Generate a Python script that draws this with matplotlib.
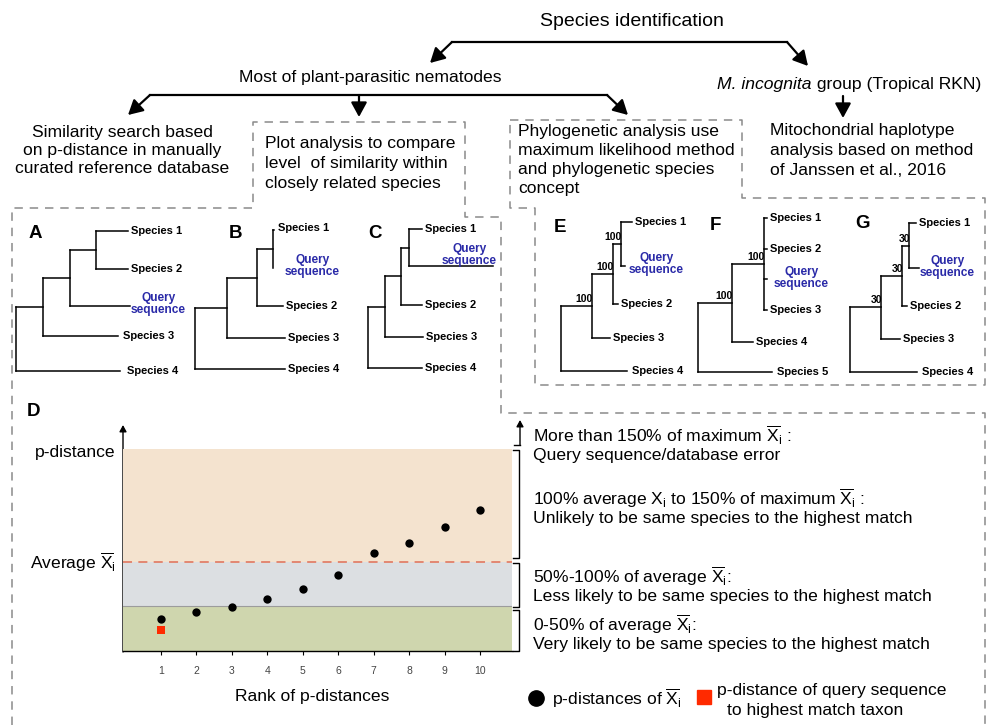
import matplotlib.pyplot as plt

plt.rcParams['font.family'] = ['Liberation Sans', 'DejaVu Sans']
plt.rcParams['mathtext.fontset'] = 'custom'
plt.rcParams['mathtext.rm'] = 'Liberation Sans'
plt.rcParams['mathtext.it'] = 'Liberation Sans:italic'

XBAR = r'$\overline{\mathrm{X}}_{\mathrm{i}}$'

# panel D data (p-distance in units of the average)
ranks = [1, 2, 3, 4, 5, 6, 7, 8, 9, 10]
p_distances = [0.36, 0.44, 0.49, 0.58, 0.70, 0.85, 1.10, 1.21, 1.39, 1.58]
query_rank = [1]
query_distance = [0.24]
band_edges = [0.0, 0.5, 1.0, 2.27]
band_colors = ['#cfd6ae', '#dcdfe2', '#f4e3cf']

# trees: (node x, bootstrap, children) ; leaf = (name, y, x_end[, dx, dy])
tree_A = (16, None, [(43, None, [(70, None, [(96, None, [("Species 1", 231, 128), ("Species 2", 269, 128)]),
                                              ("Query sequence", 306, 130, 1, -2)]),
                                 ("Species 3", 336, 118, 5)]),
                     ("Species 4", 371, 120, 7)])
tree_B = (195, None, [(227, None, [(257, None, [(273, None, [("Species 1", 230, 274, 4, -2),
                                                              ("Query sequence", 268, 273, 12, -2)]),
                                                ("Species 2", 306, 283)]),
                                   ("Species 3", 338, 285)]),
                      ("Species 4", 369, 285)])
tree_C = (368, None, [(385, None, [(401, None, [(409, None, [("Species 1", 229, 422),
                                                              ("Query sequence", 266, 493, -51, -11)]),
                                                ("Species 2", 305, 422)]),
                                   ("Species 3", 337, 423)]),
                      ("Species 4", 368, 422)])
tree_E = (561, None, [(592, '100', [(613, '100', [(621, '100', [("Species 1", 222, 632),
                                                                ("Query sequence", 266, 625, 4, -2)]),
                                                  ("Species 2", 304, 618)]),
                                    ("Species 3", 338, 610)]),
                      ("Species 4", 371, 627, 5)])
tree_F = (698, None, [(732, '100', [(764, '100', [("Species 1", 218, 767), ("Species 2", 249, 767),
                                                  ("Query sequence", 279, 767, 7, -1), ("Species 3", 310, 767)]),
                                    ("Species 4", 342, 753)]),
                      ("Species 5", 372, 772, 5)])
tree_G = (850, None, [(881, '30', [(902, '30', [(909, '30', [("Species 1", 223, 916),
                                                             ("Query sequence", 268, 919, 1, -1)]),
                                                ("Species 2", 306, 907)]),
                                   ("Species 3", 339, 900)]),
                      ("Species 4", 372, 917, 5)])
trees = [tree_A, tree_B, tree_C, tree_E, tree_F, tree_G]
panel_letters = ['A', 'B', 'C', 'E', 'F', 'G']
letter_pos = [(35, 233), (235, 233), (375, 233), (560, 227), (715, 225), (863, 223)]

fs = 12.6
blue = '#2a2aa8'
dash_col = '#8a8a8a'

fig = plt.figure(figsize=(9.87, 7.25), dpi=100)
ov = fig.add_axes([0, 0, 1, 1])
ov.set_xlim(0, 987)
ov.set_ylim(725, 0)
ov.axis('off')


def arrow(x0, y0, x1, y1, ms=16, lw=1.6):
    ov.annotate('', xy=(x1, y1), xytext=(x0, y0),
                arrowprops=dict(arrowstyle='-|>,head_length=0.55,head_width=0.3', lw=lw, color='k',
                                mutation_scale=ms, shrinkA=0, shrinkB=0))


def draw_node(node):
    x, boot, children = node
    ys = []
    for ch in children:
        if isinstance(ch[0], str):
            name, y, x_end = ch[:3]
            dx = ch[3] if len(ch) > 3 else 3
            dy = ch[4] if len(ch) > 4 else 0
            ov.plot([x, x_end], [y, y], color='k', lw=1.1)
            if name.startswith('Query'):
                ov.text(x_end + dx, y + dy, 'Query\nsequence', color=blue, fontsize=8.6, fontweight='bold',
                        ha='left', va='center', multialignment='center', linespacing=0.95)
            else:
                ov.text(x_end + dx, y + dy, name, fontsize=8, fontweight='bold', ha='left', va='center')
            ys.append(y)
        else:
            cy = draw_node(ch)
            ov.plot([x, ch[0]], [cy, cy], color='k', lw=1.1)
            if ch[1]:
                ov.text(ch[0] + 1, cy - 2, ch[1], fontsize=7.5, fontweight='bold', ha='right', va='bottom')
            ys.append(cy)
    ov.plot([x, x], [min(ys), max(ys)], color='k', lw=1.1)
    return (min(ys) + max(ys)) / 2


for t in trees:
    draw_node(t)
for lab, (lx, ly) in zip(panel_letters, letter_pos):
    ov.text(lx, ly, lab, fontsize=13.5, fontweight='bold', ha='center', va='center')

# flow chart header
ov.text(632, 21, 'Species identification', fontsize=14, ha='center', va='center')
ov.plot([452, 787], [42, 42], color='k', lw=1.6)
arrow(452, 42, 430, 63)
arrow(787, 42, 808, 66)
ov.text(370, 77, 'Most of plant-parasitic nematodes', fontsize=fs, ha='center', va='center')
t1 = ov.text(717, 84, 'M. incognita', fontsize=fs, style='italic', ha='left', va='center')
ov.annotate(' group (Tropical RKN)', xy=(1, 0.5), xycoords=t1, fontsize=fs, ha='left', va='center')
ov.plot([150, 607], [95, 95], color='k', lw=1.6)
arrow(150, 95, 128, 115)
arrow(359, 95, 359, 117)
arrow(607, 95, 628, 115)
arrow(843, 96, 843, 118)

for i, s in enumerate(['Similarity search based', 'on p-distance in manually', 'curated reference database']):
    ov.text(122, 132 + 18 * i, s, fontsize=fs, ha='center', va='center')
for i, s in enumerate(['Plot analysis to compare', 'level  of similarity within', 'closely related species']):
    ov.text(265, 143 + 20 * i, s, fontsize=fs, ha='left', va='center')
for i, s in enumerate(['Phylogenetic analysis use', 'maximum likelihood method', 'and phylogenetic species', 'concept']):
    ov.text(518, 131 + 19 * i, s, fontsize=fs, ha='left', va='center')
for i, s in enumerate(['Mitochondrial haplotype', 'analysis based on method', 'of Janssen et al., 2016']):
    ov.text(770, 130 + 20 * i, s, fontsize=fs, ha='left', va='center')

# dashed outlines
ov.plot([12, 12, 253, 253, 465, 465, 501, 501, 985, 985], [725, 208, 208, 122, 122, 217, 217, 413, 413, 725],
        color=dash_col, lw=1.1, dashes=(5.5, 4.5))
ov.plot([510, 742, 742, 985, 985, 535, 535, 510, 510], [120, 120, 198, 198, 385, 385, 208, 208, 120],
        color=dash_col, lw=1.1, dashes=(5.5, 4.5))

# panel D
ov.text(27, 411, 'D', fontsize=13.5, fontweight='bold', ha='left', va='center')
ax = fig.add_axes([123 / 987, (725 - 651) / 725, (512 - 123) / 987, (651 - 428) / 725])
ax.patch.set_alpha(0)
for lo, hi, c in zip(band_edges[:-1], band_edges[1:], band_colors):
    ax.axhspan(lo, hi, color=c, lw=0, zorder=0)
ax.axhline(band_edges[1], color='#9c9c9c', lw=0.8, zorder=1)
ax.axhline(band_edges[2], color='#e2806a', lw=1.3, dashes=(5, 3.5), zorder=1)
ax.scatter(ranks, p_distances, s=36, color='k', zorder=3, linewidths=0)
ax.scatter(query_rank, query_distance, s=32, marker='s', color='#ff2a00', zorder=3, linewidths=0)
ax.set_xlim(-0.072, 10.9)
ax.set_ylim(0, 2.5)
for sp in ['top', 'right', 'left']:
    ax.spines[sp].set_visible(False)
ax.spines['bottom'].set_linewidth(1.0)
ax.set_xticks(ranks)
ax.set_yticks([])
ax.tick_params(axis='x', direction='out', length=3, width=0.8, labelsize=7.5, labelcolor='#444', pad=8)

arrow(123, 652, 123, 425, ms=7, lw=1.0)
ov.text(116, 452, 'p-distance', fontsize=fs, ha='right', va='center')
ov.text(116, 562, 'Average ' + XBAR, fontsize=fs, ha='right', va='center')
ov.text(312, 697, 'Rank of p-distances', fontsize=fs, ha='center', va='center')

# brackets
ov.plot([514, 520], [445, 445], color='k', lw=1.0)
arrow(520, 445, 520, 420, ms=7, lw=1.0)
for y0, y1 in [(450, 558), (563, 607), (610, 651)]:
    ov.plot([513, 519, 519, 513], [y0, y0, y1, y1], color='k', lw=1.0)

right_lines = [
    (435, 'More than 150% of maximum ' + XBAR + ' :'),
    (455, 'Query sequence/database error'),
    (498, r'100% average X$_{\mathrm{i}}$ to 150% of maximum ' + XBAR + ' :'),
    (518, 'Unlikely to be same species to the highest match'),
    (576, '50%-100% of average ' + XBAR + ':'),
    (596, 'Less likely to be same species to the highest match'),
    (624, '0-50% of average ' + XBAR + ':'),
    (645, 'Very likely to be same species to the highest match'),
]
for y, s in right_lines:
    ov.text(533, y, s, fontsize=fs, ha='left', va='center')

# legend
ov.plot([536], [698], 'o', color='k', ms=11)
ov.text(552, 698, 'p-distances of ' + XBAR, fontsize=fs, ha='left', va='center')
ov.plot([704], [697], 's', color='#ff2a00', ms=10.5)
ov.text(717, 690, 'p-distance of query sequence', fontsize=fs, ha='left', va='center')
ov.text(727, 710, 'to highest match taxon', fontsize=fs, ha='left', va='center')

fig.savefig('out.png', dpi=100)
